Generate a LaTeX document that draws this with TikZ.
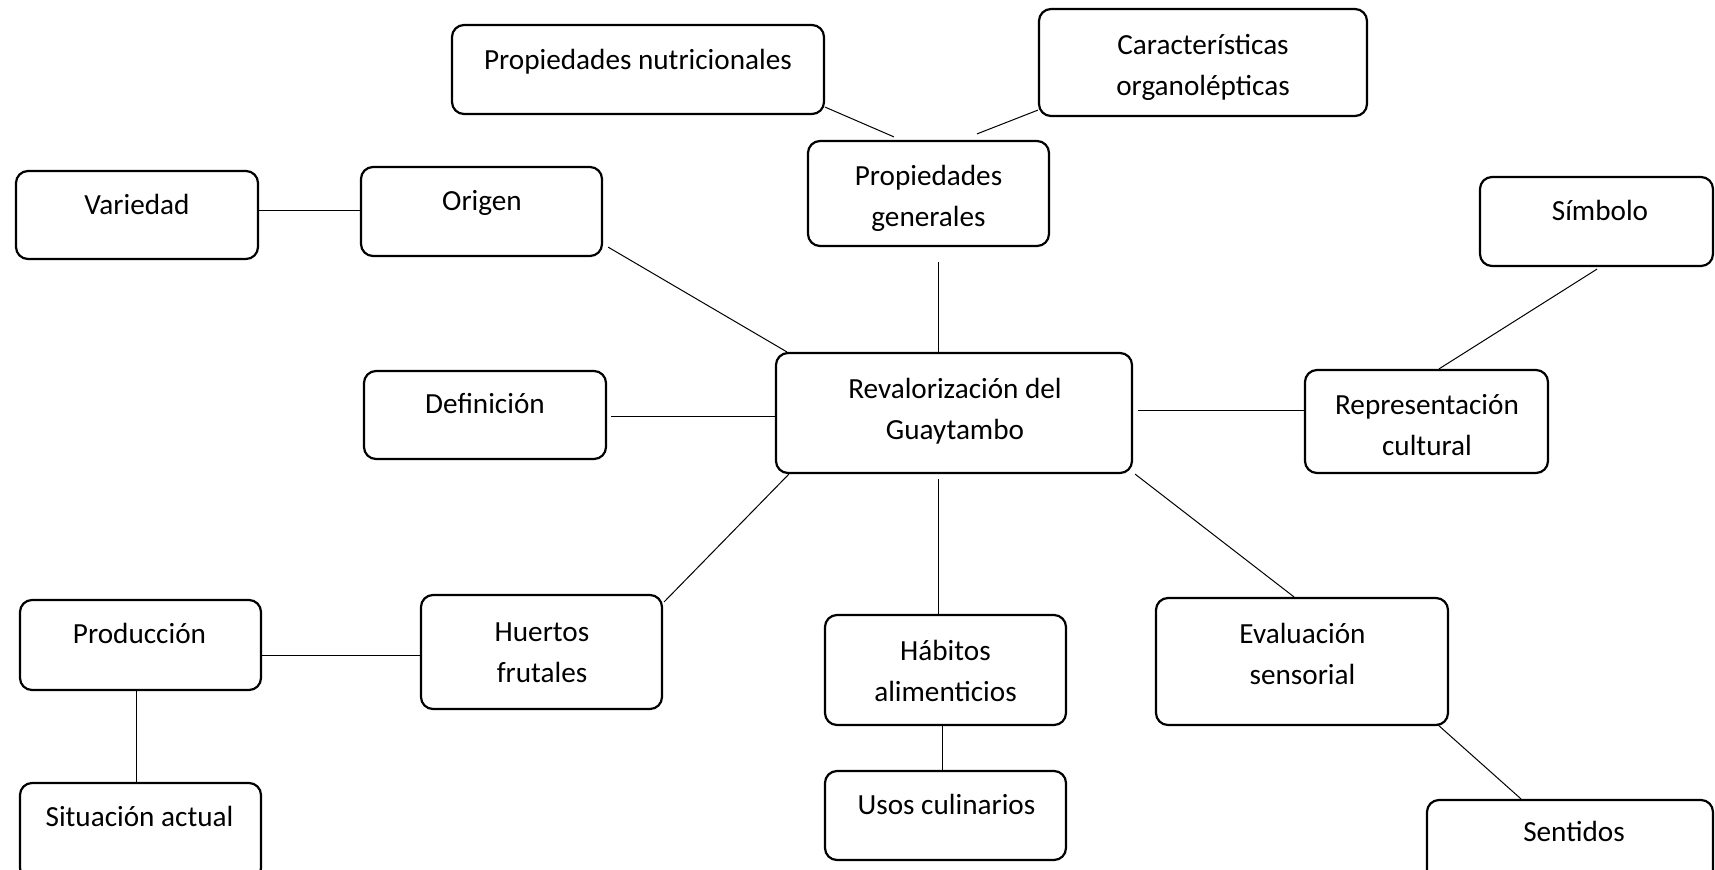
\documentclass[tikz,border=0pt]{standalone}
\usepackage{fontspec}
\setmainfont{Carlito}
\usetikzlibrary{calc}
\tikzset{
  box/.style={draw=black, line width=1.1pt, rounded corners=6pt, inner sep=0pt, fill=white},
  txt/.style={inner sep=0pt, align=center, text height=0.64em, text depth=0pt,
              font=\fontsize{14.6}{20.5}\selectfont, yshift=-1.6pt},
  txttwo/.style={txt, yshift=-10.6pt},
  link/.style={draw=black, line width=0.5pt}
}
\begin{document}
\begin{tikzpicture}[x=0.5pt, y=-0.5pt]
\useasboundingbox (0,0) rectangle (1715,869);
\clip (0,0) rectangle (1715,869);
\fill[white] (0,0) rectangle (1715,869);
% boxes
\node[box, minimum width=186pt, minimum height=44.5pt] (pn) at (638,69.5) {};
\node[box, minimum width=164pt, minimum height=53.5pt] (ca) at (1203,62.5) {};
\node[box, minimum width=120.5pt, minimum height=52.5pt] (pg) at (928.5,193.5) {};
\node[box, minimum width=121pt, minimum height=44pt] (va) at (137,215) {};
\node[box, minimum width=120.5pt, minimum height=44.5pt] (or) at (481.5,211.5) {};
\node[box, minimum width=116.5pt, minimum height=44.5pt] (si) at (1596.5,221.5) {};
\node[box, minimum width=121pt, minimum height=44pt] (de) at (485,415) {};
\node[box, minimum width=178pt, minimum height=60pt] (rv) at (954,413) {};
\node[box, minimum width=121.5pt, minimum height=51.5pt] (rc) at (1426.5,421.5) {};
\node[box, minimum width=120.5pt, minimum height=45pt] (pr) at (140.5,645) {};
\node[box, minimum width=120.5pt, minimum height=57pt] (hf) at (541.5,652) {};
\node[box, minimum width=120.5pt, minimum height=55pt] (ha) at (945.5,670) {};
\node[box, minimum width=146pt, minimum height=63.5pt] (ev) at (1302,661.5) {};
\node[box, minimum width=120.5pt, minimum height=48.5pt] (sa) at (140.5,831.5) {};
\node[box, minimum width=120.5pt, minimum height=44.5pt] (uc) at (945.5,815.5) {};
\node[box, minimum width=143pt, minimum height=45pt] (se) at (1570,845) {};
% texts
\node[txt] (pnT) at (638,60) {Propiedades nutricionales};
\node[txttwo] (caT) at (1203,65) {Características\\organolépticas};
\node[txttwo] (pgT) at (928.5,196) {Propiedades\\generales};
\node[txt] (vaT) at (137,205) {Variedad};
\node[txt] (orT) at (482,201) {Origen};
\node[txt] (siT) at (1600,211) {Símbolo};
\node[txt] (deT) at (485,404) {Definición};
\node[txttwo] (rvT) at (955,409) {Revalorización del\\Guaytambo};
\node[txttwo] (rcT) at (1427,425) {Representación\\cultural};
\node[txt] (prT) at (139.5,634) {Producción};
\node[txttwo] (hfT) at (542,651.5) {Huertos\\frutales};
\node[txttwo] (haT) at (945.5,670.5) {Hábitos\\alimenticios};
\node[txttwo] (evT) at (1302.5,654) {Evaluación\\sensorial};
\node[txt] (saT) at (139.5,817) {Situación actual};
\node[txt] (ucT) at (946.5,805) {Usos culinarios};
\node[txt] (seT) at (1574,832) {Sentidos};
% connectors
\draw[link] ($(pn.south east)+(0,-8)$) -- ($(pg.north)+(-34.5,-3)$);
\draw[link] ($(ca.south west)+(0,-7)$) -- ($(pg.north)+(48.5,-6)$);
\draw[link] ($(pg.south)+(10,15)$) -- ($(rv.north)+(-15.5,0)$);
\draw[link] ($(va.east)+(0,-5)$) -- ($(or.west)+(0,-1.5)$);
\draw[link] ($(or.south east)+(5,-10)$) -- ($(rv.north west)+(12,0)$);
\draw[link] ($(de.east)+(4,1)$) -- ($(rv.west)+(0,3)$);
\draw[link] ($(rv.east)+(5,-3)$) -- ($(rc.west)+(0,-11.5)$);
\draw[link] ($(si.south)+(0.5,2)$) -- ($(rc.north)+(12.5,0)$);
\draw[link] ($(rv.south west)+(14,0)$) -- ($(hf.north east)+(1,8)$);
\draw[link] ($(rv.south)+(-15.5,5)$) -- ($(ha.north)+(-7,0)$);
\draw[link] ($(rv.south east)+(2,0)$) -- ($(ev.north)+(-8,0)$);
\draw[link] ($(pr.east)+(0,10)$) -- ($(hf.west)+(0,3)$);
\draw[link] ($(pr.south)+(-4.5,0)$) -- ($(sa.north)+(-4.5,2)$);
\draw[link] ($(ha.south)+(-3.5,0)$) -- ($(uc.north)+(-3.5,0)$);
\draw[link] ($(ev.south east)+(-12,-2)$) -- ($(se.north)+(-49,0)$);
\end{tikzpicture}
\end{document}
